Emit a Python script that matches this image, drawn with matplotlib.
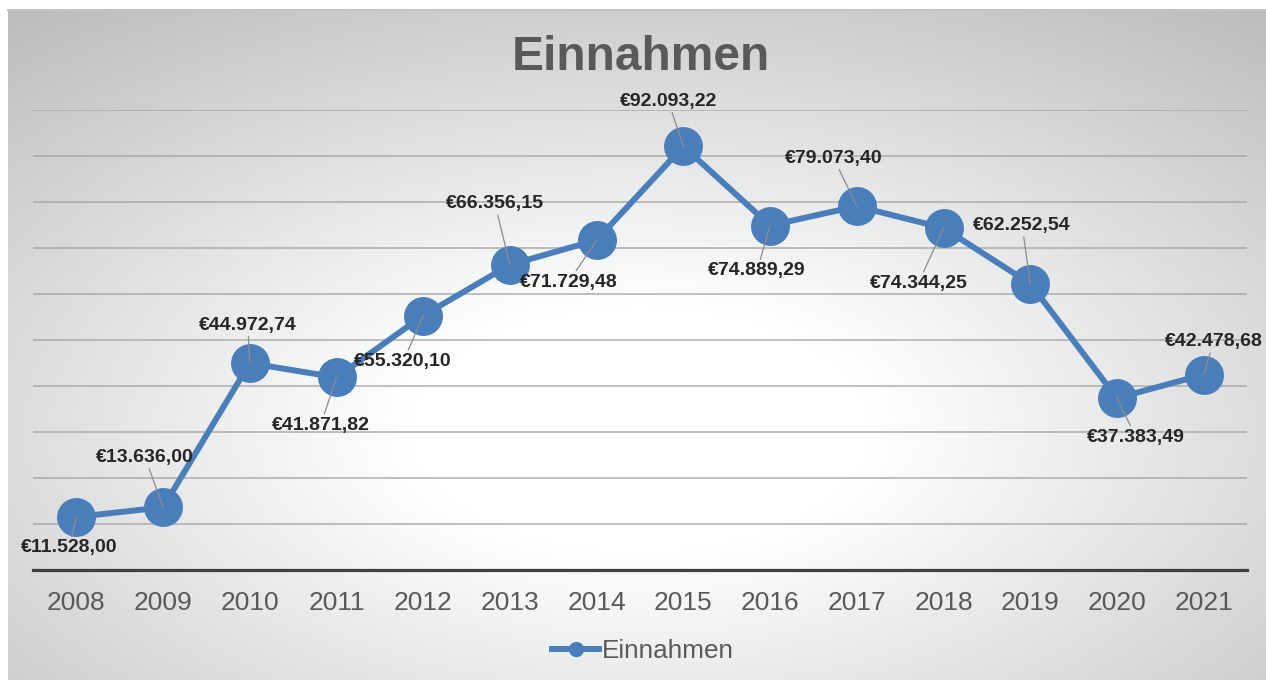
import numpy as np
import matplotlib.pyplot as plt
from matplotlib.lines import Line2D

plt.rcParams['font.family'] = ['Liberation Sans', 'DejaVu Sans']

# data
years = ['2008', '2009', '2010', '2011', '2012', '2013', '2014',
         '2015', '2016', '2017', '2018', '2019', '2020', '2021']
einnahmen = [11528.00, 13636.00, 44972.74, 41871.82, 55320.10, 66356.15, 71729.48,
             92093.22, 74889.29, 79073.40, 74344.25, 62252.54, 37383.49, 42478.68]
labels = ['€11.528,00', '€13.636,00', '€44.972,74', '€41.871,82', '€55.320,10',
          '€66.356,15', '€71.729,48', '€92.093,22', '€74.889,29', '€79.073,40',
          '€74.344,25', '€62.252,54', '€37.383,49', '€42.478,68']
# where each data label sits relative to its point (pixels)
label_offsets = [(-7, -31), (-18, 50), (-2, 38), (-16, -48), (-20, -46),
                 (-15, 61), (-28, -42), (-15, 45), (-13, -45), (-23, 48),
                 (-25, -55), (-8, 58), (19, -39), (10, 33)]

blue = '#4a7ebb'
W, H = 1266, 680
fig = plt.figure(figsize=(W / 100, H / 100), dpi=100, facecolor='white')

# radial grey-to-white background of the chart area
bg = fig.add_axes([8 / W, 0, 1 - 8 / W, 1 - 10 / H], zorder=-10)
gx, gy = np.meshgrid(np.linspace(8, W, 400), np.linspace(10, H, 220))
d = np.sqrt(((gx - 640) / 629) ** 2 + ((gy - 430) / 335) ** 2)
shade = 255 - 68 * np.clip((d - 0.35) / 1.25, 0, 1)
img = np.dstack([shade, shade + 1, shade + 1]) / 255
bg.imshow(np.clip(img, 0, 1), aspect='auto', extent=[0, 1, 0, 1], origin='upper')
bg.set_axis_off()
bg.plot([0, 1], [1, 1], color='#c4c4c4', lw=1.5, transform=bg.transAxes, clip_on=False)

ax = fig.add_axes([33 / W, 1 - 570 / H, (1247 - 33) / W, (570 - 110) / H])
ax.set_facecolor('none')
x = np.arange(len(years))
ax.plot(x, einnahmen, color=blue, lw=4.3, marker='o', markersize=27,
        markerfacecolor=blue, markeredgecolor=blue, zorder=3)

for xi, yi, lab, off in zip(x, einnahmen, labels, label_offsets):
    ax.annotate(lab, (xi, yi), xytext=off, textcoords='offset pixels',
                ha='center', va='center', fontsize=14, fontweight='bold',
                color='#262626', zorder=5,
                arrowprops=dict(arrowstyle='-', color='#8c8c8c', lw=0.9,
                                shrinkA=0, shrinkB=0))

ax.set_xlim(-0.5, len(years) - 0.5)
ax.set_ylim(0, 100000)
ax.set_yticks(np.arange(10000, 100001, 10000))
ax.yaxis.grid(True, color='#a3a3a3', lw=1.3, alpha=0.75)
ax.set_axisbelow(True)
ax.tick_params(axis='y', left=False, labelleft=False)
ax.set_xticks(x)
ax.set_xticklabels(years)
ax.tick_params(axis='x', length=0, pad=15, labelsize=19, labelcolor='#595959')
for s in ['top', 'right', 'left']:
    ax.spines[s].set_visible(False)
ax.spines['bottom'].set_color('#404040')
ax.spines['bottom'].set_linewidth(2.3)

fig.text(0.506, 1 - 58 / H, 'Einnahmen', ha='center', va='center',
         fontsize=34.5, fontweight='bold', color='#595959')

handle = Line2D([], [], color=blue, lw=4.3, marker='o', markersize=10)
fig.legend([handle], ['Einnahmen'], loc='center', bbox_to_anchor=(0.508, 1 - 651 / H),
           frameon=False, fontsize=18.8, labelcolor='#595959',
           handlelength=1.8, handletextpad=0.1)

fig.savefig('out.png', dpi=100)
